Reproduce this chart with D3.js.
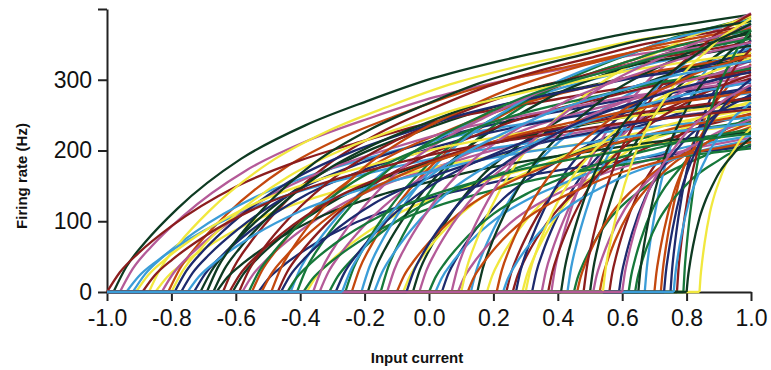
<!doctype html>
<html>
<head>
    <meta charset="utf-8" />
    <title>Tuning curves</title>
    <style>
        body { margin: 0; background: #fff; }
        svg text { font-family: "Liberation Sans", Arial, sans-serif; fill: #111; }
        .axis path, .axis line { stroke: #222; stroke-width: 2; }
        .axis text { font-size: 23px; }
        .label { font-size: 15px; font-weight: bold; }
        .curve path { fill: none; stroke-width: 2.3; stroke-linejoin: round; }
    </style>
</head>
<body>
    <div id="chart"></div>

    <script src="https://cdn.jsdelivr.net/npm/d3@7"></script>
    <script>
        // x ticks and y ticks
        var xTicks = [-1.0, -0.8, -0.6, -0.4, -0.2, 0.0, 0.2, 0.4, 0.6, 0.8, 1.0];
        var yTicks = [0, 100, 200, 300, 400];
        var yTickLabels = ["0", "100", "200", "300", ""];

        // where each neuron starts firing (input current), in drawing order
        var intercepts = [
            -0.98, 0.32, -0.58, 0.13, -0.85, 0.56, -0.24, 0.45, -0.71, 0.04,
            -0.96, 0.67, -0.38, 0.24, -0.81, 0.62, -0.05, -0.53, 0.38, -0.92,
            0.18, -0.64, 0.72, -0.31, 0.50, -0.77, 0.09, -0.43, 0.29, -1.00,
            0.46, -0.15, -0.61, 0.75, -0.34, 0.02, -0.87, 0.26, -0.55, 0.64,
            -0.19, -0.73, 0.35, -0.94, 0.10, -0.47, 0.53, -0.26, -0.66, 0.27,
            -0.83, 0.43, -0.08, -0.59, 0.70, -0.39, 0.15, -0.79, 0.51, -0.21,
            -0.91, 0.37, -0.49, 0.00, -0.67, 0.59, -0.36, 0.23, -0.80, 0.48,
            -0.10, -0.56, 0.65, -0.29, 0.07, -0.75, 0.30, -0.62, 0.12, -0.41,
            -0.69, -0.46, -0.03, -0.17, 0.84, 0.77, -0.52, 0.79, 0.80, 0.73,
            -0.13, 0.76, 0.54, -0.89, 0.21, -0.44, 0.41, -0.07, 0.60, -0.27
        ];

        // firing rate at input 1.0 (Hz)
        var maxRates = [
            392, 318, 262, 345, 236, 288, 372, 214, 330, 276,
            358, 384, 227, 302, 365, 248, 338, 206, 394, 281,
            256, 377, 322, 241, 362, 296, 218, 350, 269, 310,
            233, 388, 272, 356, 305, 221, 381, 252, 334, 209,
            366, 285, 327, 247, 390, 314, 239, 371, 226, 342,
            298, 380, 259, 353, 292, 203, 369, 326, 244, 385,
            266, 307, 374, 230, 348, 279, 361, 215, 338, 393,
            251, 316, 363, 289, 376, 238, 331, 274, 212, 358,
            383, 262, 320, 297, 232, 344, 283, 370, 218, 301,
            353, 268, 387, 258, 335, 224, 379, 311, 293, 327
        ];

        // shape of one curve:
        // fraction of the way from intercept to 1.0 -> fraction of max rate
        var shapeSpan = [0, 0.02, 0.05, 0.1, 0.2, 0.3, 0.4, 0.5, 0.6, 0.7, 0.8, 0.9, 1.0];
        var shapeRate = [0, 0.09, 0.18, 0.30, 0.48, 0.60, 0.69, 0.77, 0.83, 0.88, 0.93, 0.965, 1.0];

        var palette = ["#0e3a22", "#1d2a6e", "#b45a98", "#3b9dd8",
                       "#f1e83e", "#8c1d1d", "#c4480e", "#16783a"];

        var w = 771, h = 370;
        var margin = { left : 107, right : 20, top : 9, bottom : 78 };

        var svg = d3.select("#chart").append("svg").attr("width", w).attr("height", h);

        var x = d3.scaleLinear().domain([-1, 1]).range([margin.left, w - margin.right]);
        var y = d3.scaleLinear().domain([0, 400]).range([h - margin.bottom, margin.top]);

        svg.append("g").attr("class", "axis")
            .attr("transform", "translate(0," + y(0) + ")")
            .call(d3.axisBottom(x).tickValues(xTicks)
                .tickFormat(function(d) { return d.toFixed(1); })
                .tickSize(9).tickSizeOuter(0).tickPadding(9));

        svg.append("g").attr("class", "axis")
            .attr("transform", "translate(" + x(-1) + ",0)")
            .call(d3.axisLeft(y).tickValues(yTicks)
                .tickFormat(function(d, i) { return yTickLabels[i]; })
                .tickSize(9).tickSizeOuter(0).tickPadding(6));

        svg.selectAll(".axis text").attr("fill", "#111");

        var flat = d3.line()
            .x(function(d) { return x(d[0]); })
            .y(function(d) { return y(d[1]); });

        var rise = d3.line()
            .x(function(d) { return x(d[0]); })
            .y(function(d) { return y(d[1]); })
            .curve(d3.curveMonotoneX);

        function risePoints(c, r) {
            return shapeSpan.map(function(t, k) {
                return [c + t * (1 - c), r * shapeRate[k]];
            });
        }

        var curves = svg.append("g").selectAll("g")
            .data(intercepts)
            .enter().append("g")
            .attr("class", "curve")
            .attr("stroke", function(d, i) { return palette[i % palette.length]; });

        curves.filter(function(d) { return d > -1; })
            .append("path")
            .attr("d", function(d) { return flat([[-1, 0], [d, 0]]); });

        curves.append("path")
            .attr("d", function(d, i) { return rise(risePoints(d, maxRates[i])); });

        svg.append("text").attr("class", "label")
            .attr("x", 417).attr("y", 363)
            .attr("text-anchor", "middle")
            .text("Input current");

        svg.append("text").attr("class", "label")
            .attr("transform", "translate(27,176) rotate(-90)")
            .attr("text-anchor", "middle")
            .text("Firing rate (Hz)");
    </script>
</body>
</html>
